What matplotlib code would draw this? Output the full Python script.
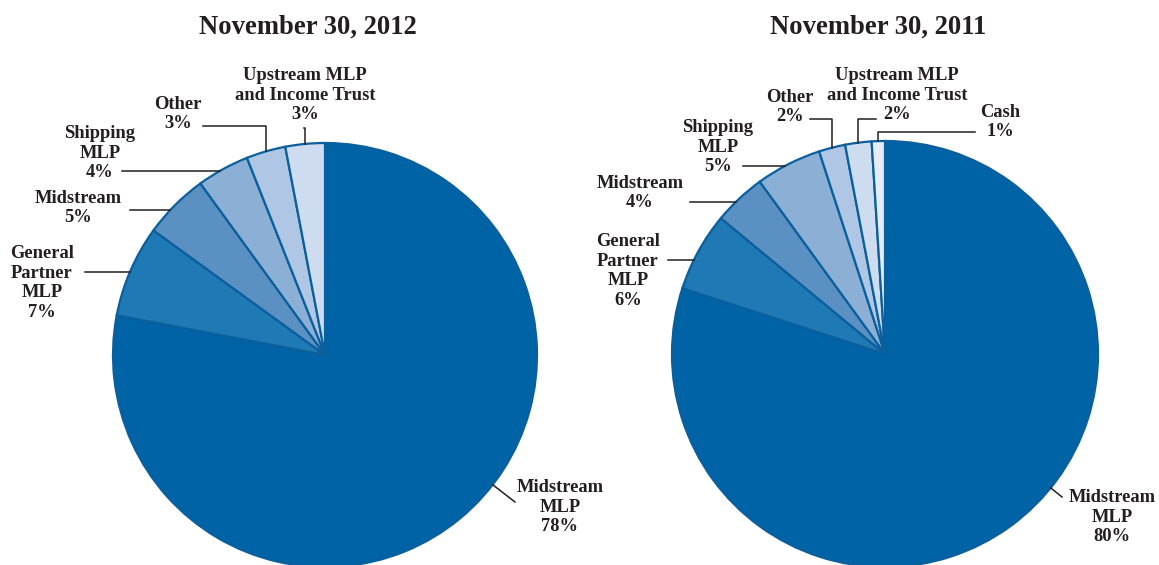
import numpy as np
import matplotlib.pyplot as plt

W, H = 1159, 565

# data
labels_2012 = ['Midstream\nMLP\n78%', 'General\nPartner\nMLP\n7%', 'Midstream\n5%',
               'Shipping\nMLP\n4%', 'Other\n3%', 'Upstream MLP\nand Income Trust\n3%']
values_2012 = [78, 7, 5, 4, 3, 3]
labels_2011 = ['Midstream\nMLP\n80%', 'General\nPartner\nMLP\n6%', 'Midstream\n4%',
               'Shipping\nMLP\n5%', 'Other\n2%', 'Upstream MLP\nand Income Trust\n2%',
               'Cash\n1%']
values_2011 = [80, 6, 4, 5, 2, 2, 1]
titles = ['November 30, 2012', 'November 30, 2011']

colors = ['#0063a6', '#1f79b5', '#5b90c3', '#8cafd6', '#afc7e4', '#cddcee', '#e4ecf7']
edge = '#0b5f9c'
txt = '#231f20'

# layout in pixels (y from top)
pies = [
    dict(cx=325, cy=355, r=212, title_x=308,
         text=[(560, 507), (42, 283), (78, 208), (100, 153), (178, 114), (305, 95)],
         start=[(515, 502), (85, 272), (130, 210), (122, 171), (203, 126), (304, 128)],
         kind=['radial', 'h', 'h', 'h', 'elbow', 'elbow']),
    dict(cx=885, cy=354, r=213, title_x=878,
         text=[(1112, 517), (628, 271), (640, 193), (718, 147), (790, 107), (897, 95), (1000, 122)],
         start=[(1062, 497), (668, 260), (690, 202), (743, 166), (810, 119), (876, 119), (975, 132)],
         kind=['radial', 'h', 'h', 'h', 'elbow', 'elbow', 'elbow']),
]

plt.rcParams['font.family'] = ['Liberation Serif', 'DejaVu Serif']
fig = plt.figure(figsize=(W / 100, H / 100), dpi=100)
ax = fig.add_axes([0, 0, 1, 1])

for p, vals, labs, title in zip(pies, [values_2012, values_2011],
                                [labels_2012, labels_2011], titles):
    cx, cy, r = p['cx'], H - p['cy'], p['r']
    wedges, _ = ax.pie(vals, colors=colors[:len(vals)], startangle=90,
                       counterclock=False, center=(cx, cy), radius=r,
                       wedgeprops=dict(edgecolor=edge, linewidth=1.6))
    ax.text(p['title_x'], H - 27, title, ha='center', va='center',
            fontsize=19.2, fontweight='bold', color=txt)
    for w, lab, (tx, ty), (sx, sy), kind in zip(wedges, labs, p['text'], p['start'], p['kind']):
        ax.text(tx, H - ty, lab, ha='center', va='center', fontsize=13.3,
                fontweight='bold', color=txt, linespacing=1.22)
        sy = H - sy
        if kind == 'radial':
            d = np.hypot(sx - cx, sy - cy)
            ex, ey = cx + (sx - cx) * r / d, cy + (sy - cy) * r / d
            ax.plot([sx, ex], [sy, ey], color=txt, lw=1.1)
            continue
        mid = np.deg2rad((w.theta1 + w.theta2) / 2)
        ex, ey = cx + r * np.cos(mid), cy + r * np.sin(mid)
        if kind == 'h':
            ex = cx - np.sqrt(r ** 2 - (sy - cy) ** 2)
            ax.plot([sx, ex], [sy, sy], color=txt, lw=1.1)
        else:
            ax.plot([sx, ex, ex], [sy, sy, ey], color=txt, lw=1.1)

ax.set_xlim(0, W)
ax.set_ylim(0, H)
ax.set_aspect('equal')
ax.axis('off')

fig.savefig('out.png', dpi=100)
